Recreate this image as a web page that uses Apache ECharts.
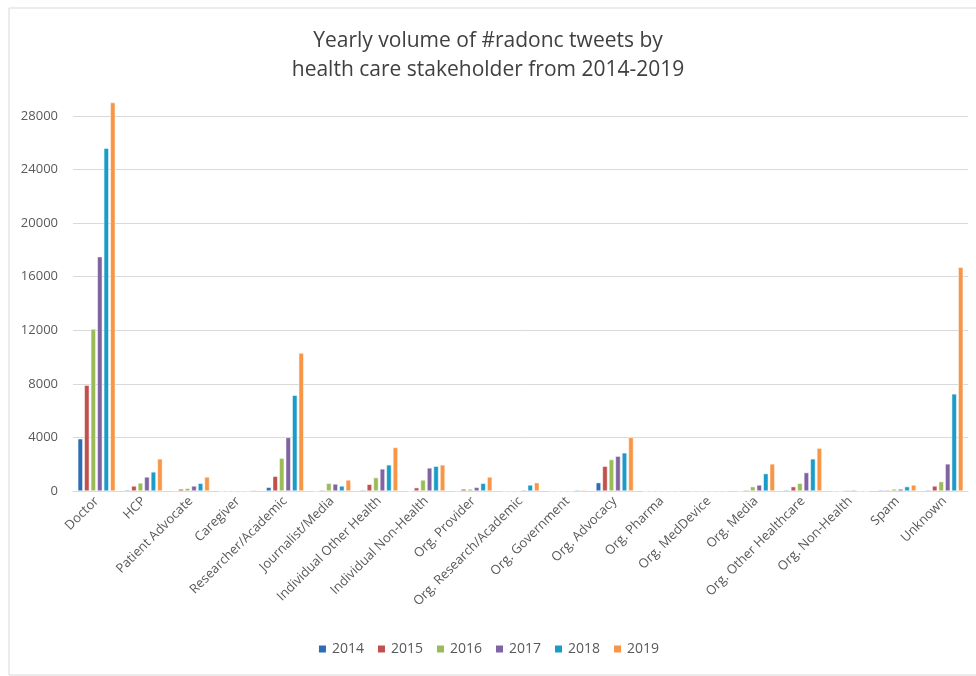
<!DOCTYPE html>
<html><head><meta charset="utf-8">
<script src="https://cdn.jsdelivr.net/npm/echarts@6/dist/echarts.min.js"></script>
<style>html,body{margin:0;padding:0;background:#fff}#c{width:976px;height:676px}</style>
</head><body><div id="c"></div>
<script>
const categories = ["Doctor","HCP","Patient Advocate","Caregiver","Researcher/Academic","Journalist/Media","Individual Other Health","Individual Non-Health","Org. Provider","Org. Research/Academic","Org. Government","Org. Advocacy","Org. Pharma","Org. MedDevice","Org. Media","Org. Other Healthcare","Org. Non-Health","Spam","Unknown"];
const years = ["2014","2015","2016","2017","2018","2019"];
const v2014 = [3900, 80, 20, 0, 275, 0, 75, 0, 20, 0, 0, 625, 0, 0, 0, 75, 0, 75, 75];
const v2015 = [7900, 375, 150, 0, 1100, 75, 500, 250, 150, 0, 0, 1850, 0, 0, 75, 325, 0, 75, 375];
const v2016 = [12100, 600, 200, 0, 2450, 575, 1000, 825, 150, 0, 0, 2350, 0, 0, 325, 575, 75, 150, 700];
const v2017 = [17500, 1050, 375, 0, 4000, 525, 1650, 1725, 275, 75, 0, 2600, 0, 0, 450, 1375, 75, 150, 2025];
const v2018 = [25600, 1425, 575, 0, 7150, 375, 1950, 1850, 575, 450, 75, 2850, 0, 0, 1300, 2400, 0, 325, 7250];
const v2019 = [29000, 2400, 1050, 75, 10300, 825, 3250, 1950, 1050, 625, 75, 4000, 0, 0, 2025, 3200, 0, 450, 16700];
const yTicks = [0, 4000, 8000, 12000, 16000, 20000, 24000, 28000];
const colors = ["#2E6DB4","#C0504D","#9BBB59","#8064A2","#1A9BC8","#F79646"];
const seriesData = [v2014, v2015, v2016, v2017, v2018, v2019];

const chart = echarts.init(document.getElementById('c'));
chart.setOption({
  animation: false,
  color: colors,
  title: {
    text: "Yearly volume of #radonc tweets by\nhealth care stakeholder from 2014-2019",
    left: 'center', top: 22,
    textStyle: {fontFamily: 'Open Sans', fontSize: 21, fontWeight: 'normal', color: '#404040', lineHeight: 29}
  },
  graphic: [{type: 'rect', shape: {x: 9, y: 8, width: 980, height: 667}, style: {fill: 'none', stroke: '#d9d9d9', lineWidth: 1}, silent: true}],
  legend: {
    data: years, bottom: 15, left: 'center', itemWidth: 9, itemHeight: 9, itemGap: 12,
    icon: 'rect',
    textStyle: {fontFamily: 'Open Sans', fontSize: 14, color: '#595959'}
  },
  grid: {left: 73, right: 8, top: 116, bottom: 185},
  xAxis: {
    type: 'category', data: categories,
    axisLine: {lineStyle: {color: '#d9d9d9', width: 1}},
    axisTick: {show: false},
    axisLabel: {rotate: 45, interval: 0, fontFamily: 'Open Sans', fontSize: 13, color: '#595959', margin: 8}
  },
  yAxis: {
    type: 'value', min: 0, max: 28000, interval: 4000,
    axisLine: {show: false}, axisTick: {show: false},
    splitLine: {lineStyle: {color: '#d9d9d9', width: 1}},
    axisLabel: {fontFamily: 'Open Sans', fontSize: 13, color: '#595959', margin: 15,
      formatter: v => yTicks.includes(v) ? String(v) : ''}
  },
  series: years.map((y, i) => ({
    name: y, type: 'bar', data: seriesData[i], clip: false,
    barWidth: 5, barGap: '30%',
    itemStyle: {borderColor: '#ffffff', borderWidth: 0.5}
  }))
});
</script></body></html>
